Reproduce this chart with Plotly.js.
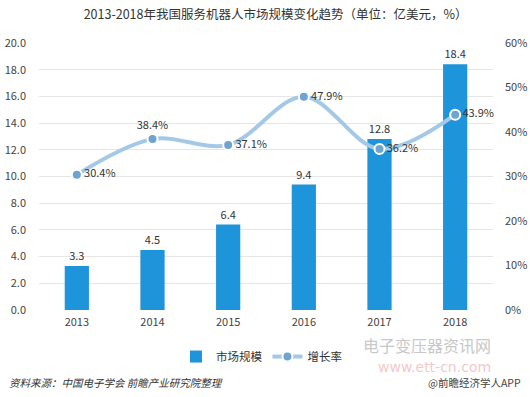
<!DOCTYPE html>
<html>
<head>
<meta charset="utf-8">
<script src="https://cdn.plot.ly/plotly-3.0.1.min.js"></script>
<style>html,body{margin:0;padding:0;background:#fff;}#chart{width:530px;height:397px;}</style>
</head>
<body>
<div id="chart"></div>
<script>
var years = ['2013', '2014', '2015', '2016', '2017', '2018'];
var marketSize = [3.3, 4.5, 6.4, 9.4, 12.8, 18.4];
var growthRate = [30.4, 38.4, 37.1, 47.9, 36.2, 43.9];
var growthLabelPos = ['middle right', 'top center', 'middle right', 'middle right', 'middle right', 'middle right'];

var FONT = '"Noto Sans CJK SC", "Noto Sans", sans-serif';

var traces = [
  {
    type: 'bar', name: '市场规模', x: years, y: marketSize,
    text: marketSize.map(function(v){ return v.toFixed(1); }),
    textposition: 'outside', cliponaxis: false,
    textfont: {size: 11, color: '#333', family: FONT},
    marker: {color: '#1E94DA'}, width: 0.32, yaxis: 'y'
  },
  {
    type: 'scatter', mode: 'lines+markers+text', name: '增长率', x: years, y: growthRate,
    text: growthRate.map(function(v){ return v.toFixed(1) + '%'; }),
    textposition: growthLabelPos, cliponaxis: false,
    textfont: {size: 11, color: '#333', family: FONT},
    line: {color: '#A3C8E8', width: 4, shape: 'spline', smoothing: 1},
    marker: {size: 10, color: '#6FA4D2', line: {color: '#fff', width: 2}},
    yaxis: 'y2'
  }
];

var layout = {
  width: 530, height: 397,
  margin: {l: 39, r: 37, t: 43, b: 87},
  paper_bgcolor: '#fff', plot_bgcolor: '#fff',
  font: {family: FONT, size: 11, color: '#444'},
  showlegend: true,
  title: {text: '2013-2018年我国服务机器人市场规模变化趋势（单位：亿美元，%）', x: 0.52, xanchor: 'center', y: 0.962, yanchor: 'middle', font: {size: 12.5, color: '#333', family: FONT, weight: 400}},
  xaxis: {type: 'category', showgrid: false, zeroline: false, showline: false, ticks: '', tickfont: {size: 11, color: '#444'}, ticklabelstandoff: 4},
  yaxis: {range: [0, 20], dtick: 2, tickformat: '.1f', showgrid: true, gridcolor: '#E6E6E6', gridwidth: 1, zeroline: false, showline: false, ticklabelstandoff: 12, tickfont: {size: 11, color: '#444'}},
  yaxis2: {range: [0, 60], dtick: 10, ticksuffix: '%', overlaying: 'y', side: 'right', showgrid: false, zeroline: false, showline: false, ticklabelstandoff: 11, tickfont: {size: 11, color: '#444'}},
  legend: {orientation: 'h', x: 0.49, xanchor: 'center', y: -0.12, yanchor: 'top', font: {size: 11.5, color: '#333'}, itemwidth: 30, traceorder: 'normal'},
  annotations: [
    {text: '<i>资料来源：中国电子学会 前瞻产业研究院整理</i>', xref: 'paper', yref: 'paper', x: -0.07, y: -0.27, xanchor: 'left', yanchor: 'middle', showarrow: false, font: {size: 10.5, color: '#333', family: FONT}},
    {text: '@前瞻经济学人APP', xref: 'paper', yref: 'paper', x: 1.065, y: -0.27, xanchor: 'right', yanchor: 'middle', showarrow: false, font: {size: 10.5, color: '#444', family: FONT}},
    {text: '电子变压器资讯网', xref: 'paper', yref: 'paper', x: 1.0, y: -0.13, xanchor: 'right', yanchor: 'middle', showarrow: false, font: {size: 16, color: '#C8C8C8', family: FONT}},
    {text: 'www.ett-cn.com', xref: 'paper', yref: 'paper', x: 1.0, y: -0.212, xanchor: 'right', yanchor: 'middle', showarrow: false, font: {size: 14, color: '#F2C9C9', family: '"DejaVu Sans", sans-serif'}}
  ]
};

Plotly.newPlot('chart', traces, layout, {displayModeBar: false, responsive: false});
</script>
</body>
</html>
